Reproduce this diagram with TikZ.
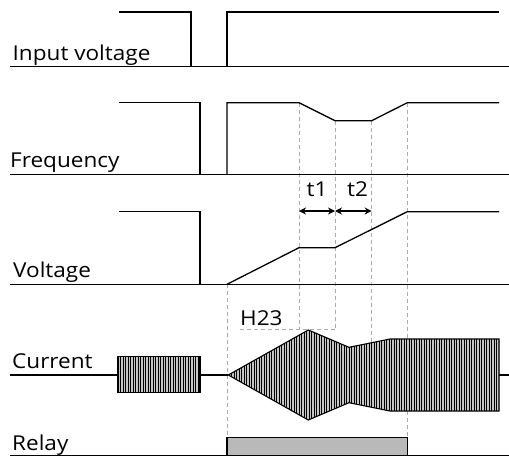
\documentclass[tikz,border=0pt]{standalone}
\usepackage{fontspec}
\setmainfont{Open Sans}[FakeStretch=1.1]
\usetikzlibrary{arrows.meta}
\begin{document}
\begin{tikzpicture}[x=1pt,y=-1pt,
  sig/.style={line width=1.3pt, line join=miter},
  base/.style={line width=1.5pt},
  guide/.style={gray!65, line width=0.9pt, dash pattern=on 4pt off 3pt},
  lab/.style={anchor=base west, inner sep=0pt, font=\fontsize{20.5}{20.5}\selectfont},
  tlab/.style={anchor=base, inner sep=0pt, font=\fontsize{20.5}{20.5}\selectfont},
  hatch/.style={fill=gray!45},
  dim/.style={line width=1.2pt, {Stealth[length=7pt,width=7pt]}-{Stealth[length=7pt,width=7pt]}}]
\useasboundingbox (0,0) rectangle (509,458);
% guide lines
\draw[guide] (227,284.3) -- (227,437.7);
\draw[guide] (299,103) -- (299,329.3);
\draw[guide] (335,120.7) -- (335,329.3);
\draw[guide] (371.7,120.7) -- (371.7,342.5);
\draw[guide] (407.3,103) -- (407.3,437.7);
\draw[guide] (240,329.3) -- (335,329.3);
% labels
\node[lab] (lin) at (12.5,60.7) {Input voltage};
\node[lab] (lfr) at (10,167) {Frequency};
\node[lab] (lvo) at (13,277) {Voltage};
\node[lab] (lcu) at (12,368) {Current};
\node[lab] (lre) at (12,450) {Relay};
\node[lab] (lh) at (240,325) {H23};
\node[tlab] (lt1) at (317,196.7) {t1};
\node[tlab] (lt2) at (357.5,196.7) {t2};
% input voltage
\draw[base] (10,66.7) -- (509,66.7);
\draw[sig] (119,12) -- (191,12) -- (191,66.7);
\draw[sig] (227,66.7) -- (227,12) -- (499,12);
% frequency
\draw[base] (10,174.3) -- (509,174.3);
\draw[sig] (119,102.7) -- (200,102.7) -- (200,174.3);
\draw[sig] (227,174.3) -- (227,102.7) -- (299,102.7) -- (335,120.7) -- (371.7,120.7) -- (407.3,102.7) -- (499,102.7);
% voltage
\draw[base] (10,284.3) -- (509,284.3);
\draw[sig] (119,211.7) -- (200,211.7) -- (200,284.3);
\draw[sig] (227,284.3) -- (299,247.7) -- (335,247.7) -- (407.3,211.7) -- (499,211.7);
\coordinate (a0) at (299,211);
\coordinate (a1) at (335,211);
\coordinate (a2) at (371.7,211);
\draw[dim] (a0) -- (a1);
\draw[dim] (a1) -- (a2);
% current
\draw[base] (10,375) -- (117.3,375);
\draw[base] (200,375) -- (228.3,375);
\draw[base] (499,375) -- (509,375);
\begin{scope}
\clip (117.3,356.7) rectangle (200,392.7);
\fill[hatch] (117.3,356.7) rectangle (200,392.7);
\foreach \x in {118,120.5,...,200} \draw[line width=0.65pt] (\x,350) -- (\x,400);
\end{scope}
\draw[line width=1.2pt] (117.3,356.7) rectangle (200,392.7);
\def\env{(228.3,375) -- (308.3,330) -- (349,347.3) -- (390,339) -- (499,339) -- (499,411) -- (390,411) -- (349,402.7) -- (308.3,420) -- cycle}
\begin{scope}
\clip \env;
\fill[hatch] \env;
\foreach \x in {229,231.5,...,500} \draw[line width=0.65pt] (\x,325) -- (\x,425);
\end{scope}
\draw[line width=1.1pt, line join=miter] \env;
% relay
\draw[sig, fill=gray!55] (227,455.7) -- (227,437.7) -- (407.3,437.7) -- (407.3,455.7);
\draw[base] (10,455.7) -- (509,455.7);
\end{tikzpicture}
\end{document}
